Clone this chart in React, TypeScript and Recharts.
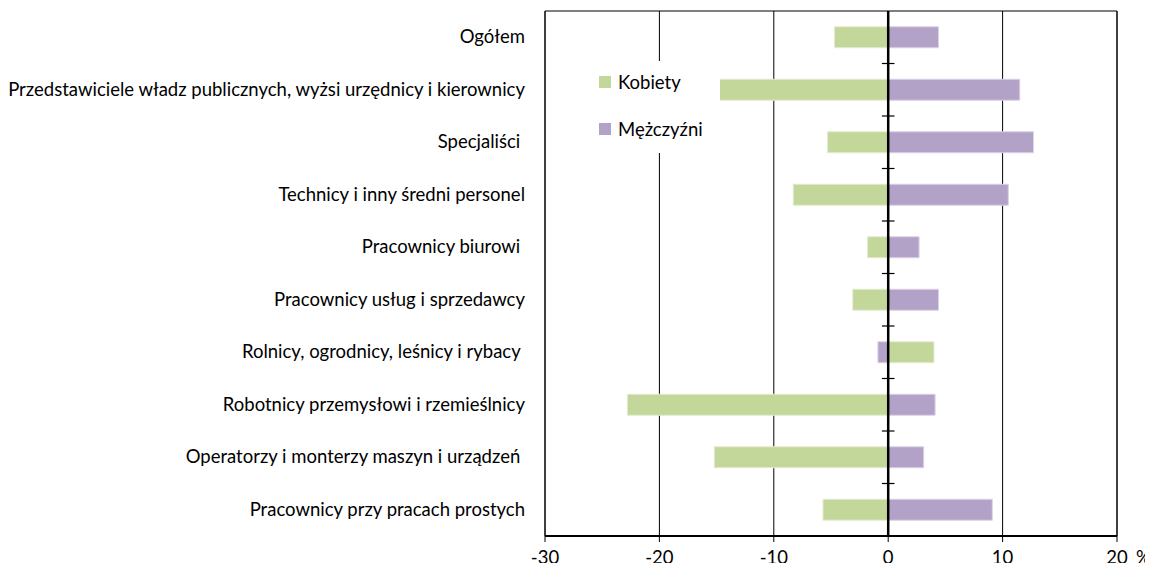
import React from 'react';
import { BarChart, Bar, XAxis, YAxis, CartesianGrid, ReferenceLine, ReferenceArea } from 'recharts';

const categories = [
  'Ogółem',
  'Przedstawiciele władz publicznych, wyżsi urzędnicy i kierownicy',
  'Specjaliści\u00a0',
  'Technicy i inny średni personel',
  'Pracownicy biurowi\u00a0',
  'Pracownicy usług i sprzedawcy',
  'Rolnicy, ogrodnicy, leśnicy i rybacy\u00a0',
  'Robotnicy przemysłowi i rzemieślnicy',
  'Operatorzy i monterzy maszyn i urządzeń\u00a0',
  'Pracownicy przy pracach prostych',
];
const kobiety = [-4.7, -14.8, -5.3, -8.3, -1.8, -3.1, 4.0, -22.8, -15.2, -5.7];
const mezczyzni = [4.4, 11.5, 12.7, 10.5, 2.7, 4.4, -0.9, 4.1, 3.1, 9.1];
const xTicks = [-30, -20, -10, 0, 10, 20];
const seriesNames = ['Kobiety', 'Mężczyźni'];
const colors = ['#c4d79b', '#b3a2c7'];

const data = categories.map((c, i) => ({ name: c, k: kobiety[i], m: mezczyzni[i] }));

const FONT = 'Lato, "DejaVu Sans", sans-serif';
const FS = 18.5;

const XTick = (props: any) => {
  const { x, y, payload } = props;
  return (
    <g>
      <text x={x} y={y + 20} textAnchor="middle" fontSize={FS} fill="#000" fontFamily={FONT}>
        {payload.value}
      </text>
      {payload.value === 20 && (
        <text x={x + 19} y={y + 20} textAnchor="start" fontSize={FS} fill="#000" fontFamily={FONT}>
          %
        </text>
      )}
    </g>
  );
};

const YTick = (props: any) => {
  const { x, y, payload } = props;
  return (
    <text x={x - 12} y={y} dy={6} textAnchor="end" fontSize={FS} fill="#000" fontFamily={FONT} xmlSpace="preserve">
      {payload.value}
    </text>
  );
};

export default function App() {
  return (
    <div style={{ position: 'relative', width: 1145, height: 560, marginBottom: -5 }}>
      <BarChart
        width={1145}
        height={560}
        data={data}
        layout="vertical"
        stackOffset="sign"
        barCategoryGap="30%"
        margin={{ top: 3, right: 36, bottom: 2, left: 0 }}
      >
        <CartesianGrid horizontal={false} vertical={true} stroke="#000" strokeWidth={1} />
        <XAxis
          type="number"
          domain={[-30, 20]}
          ticks={xTicks}
          tick={<XTick />}
          height={30}
          axisLine={{ stroke: '#000', strokeWidth: 2 }}
          tickLine={{ stroke: '#000', strokeWidth: 1 }}
          tickSize={6}
          allowDataOverflow
        />
        <YAxis
          type="category"
          dataKey="name"
          width={537}
          tick={<YTick />}
          tickLine={false}
          axisLine={false}
          interval={0}
        />
        <ReferenceArea x1={-30} x2={20} fill="none" stroke="#000" strokeWidth={1} ifOverflow="visible" />
        <Bar dataKey="k" name={seriesNames[0]} stackId="a" fill={colors[0]} stroke="#e3ecd0" strokeWidth={1} isAnimationActive={false} />
        <Bar dataKey="m" name={seriesNames[1]} stackId="a" fill={colors[1]} stroke="#dcd2e6" strokeWidth={1} isAnimationActive={false} />
        <ReferenceLine x={0} stroke="#000" strokeWidth={2.5} />
        {categories.slice(1).map((c) => (
          <ReferenceLine
            key={c}
            segment={[{ x: -0.55, y: c }, { x: 0.55, y: c }]}
            position="start"
            stroke="#000"
            strokeWidth={1.2}
          />
        ))}
      </BarChart>
      <div
        style={{
          position: 'absolute',
          left: 582,
          top: 53,
          width: 130,
          height: 92,
          background: '#fff',
          fontFamily: FONT,
          fontSize: FS,
          color: '#000',
        }}
      >
        {seriesNames.map((n, i) => (
          <div
            key={n}
            style={{ position: 'absolute', left: 9, top: i === 0 ? 10 : 57, display: 'flex', alignItems: 'center', whiteSpace: 'nowrap' }}
          >
            <span style={{ display: 'inline-block', width: 12, height: 12, background: colors[i], marginRight: 7 }} />
            <span>{n}</span>
          </div>
        ))}
      </div>
    </div>
  );
}
